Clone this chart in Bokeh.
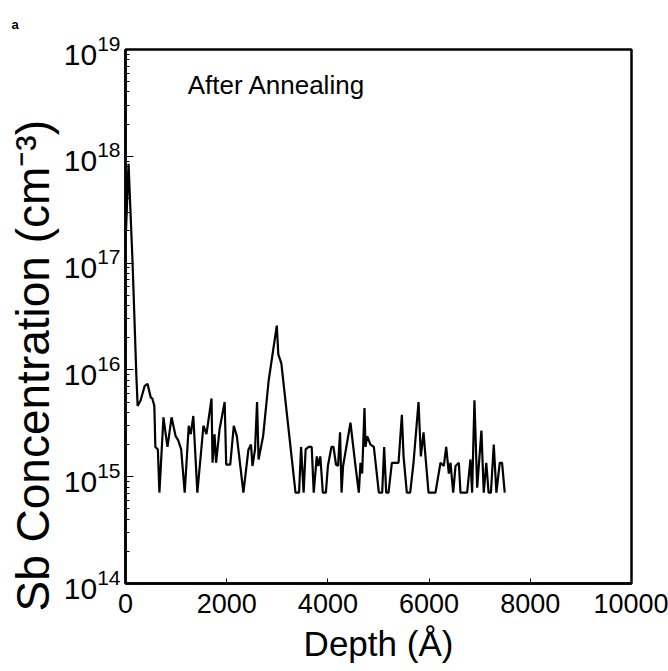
from bokeh.plotting import figure
from bokeh.models import Range1d, Label, FixedTicker, Title
from bokeh.embed import file_html
from bokeh.resources import INLINE

# Depth (Angstrom) and Sb concentration (cm^-3), read from the profile
depth = [10, 60, 140, 215, 240, 300, 380, 435, 500, 530, 570, 590, 640, 670,
         750, 800, 830, 910, 960, 990, 1040, 1100, 1170, 1250, 1290, 1340,
         1420, 1540, 1600, 1700, 1720, 1760, 1790, 1860, 1960, 1990, 2070,
         2140, 2200, 2330, 2430, 2480, 2510, 2560, 2600, 2630, 2720, 2830,
         2990, 3020, 3080, 3360, 3430, 3470, 3520, 3560, 3620, 3680, 3720,
         3780, 3810, 3850, 3900, 3960, 4000, 4070, 4110, 4160, 4200, 4240,
         4270, 4300, 4446, 4545, 4611, 4644, 4677, 4723, 4743, 4776, 4842,
         4908, 5007, 5073, 5112, 5152, 5198, 5264, 5396, 5462, 5495, 5560,
         5626, 5692, 5791, 5837, 5890, 5923, 5989, 6126, 6225, 6291, 6338,
         6390, 6423, 6476, 6522, 6588, 6620, 6752, 6817, 6850, 6896, 6950,
         7034, 7080, 7130, 7176, 7222, 7278, 7330, 7396, 7442, 7495]
conc = [2.0e17, 8.5e17, 1.0e17, 8.7e15, 4.6e15, 5.2e15, 7.1e15, 7.4e15, 5.5e15,
        5.4e15, 4.6e15, 1.9e15, 1.8e15, 7.1e14,
        3.6e15, 2.4e15, 1.9e15, 3.6e15, 2.8e15, 2.4e15, 2.2e15, 1.8e15, 7.1e14,
        3.0e15, 2.5e15, 3.7e15,
        7.1e14, 3.0e15, 2.5e15, 5.4e15, 1.35e15, 2.5e15, 1.35e15, 2.8e15,
        5.0e15, 1.3e15, 1.3e15,
        3.0e15, 2.4e15, 7.1e14, 1.8e15, 2.0e15, 1.26e15, 1.8e15, 5.0e15,
        1.45e15, 2.4e15, 8.0e15,
        2.6e16, 1.4e16, 1.15e16, 7.1e14, 7.1e14, 1.9e15, 7.1e14, 1.8e15,
        1.9e15, 1.9e15, 7.1e14,
        1.55e15, 1.26e15, 1.55e15, 7.1e14, 7.1e14, 1.26e15, 1.9e15, 1.9e15,
        1.3e15, 1.26e15, 2.6e15,
        7.1e14, 1.26e15, 3.2e15, 1.26e15, 7.1e14, 1.35e15, 1.07e15, 4.4e15,
        1.9e15, 2.4e15, 2.0e15,
        1.9e15, 7.1e14, 7.1e14, 1.9e15, 7.1e14, 7.1e14, 1.35e15, 1.35e15,
        3.8e15, 1.55e15, 7.1e14,
        7.1e14, 1.35e15, 5.0e15, 1.55e15, 2.6e15, 1.66e15, 7.1e14, 7.1e14,
        1.35e15, 1.26e15, 1.9e15,
        1.07e15, 1.35e15, 7.1e14, 1.26e15, 1.35e15, 7.1e14, 7.1e14, 1.45e15,
        7.1e14, 5.2e15, 7.9e14,
        2.7e15, 7.1e14, 1.35e15, 7.1e14, 7.1e14, 2.0e15, 7.1e14, 1.35e15,
        1.35e15, 7.1e14]

x_ticks = [0, 2000, 4000, 6000, 8000, 10000]
x_minor = [1000, 3000, 5000, 7000, 9000]

FONT = "Liberation Sans"

p = figure(width=668, height=671, y_axis_type="log",
           x_range=Range1d(0, 10000), y_range=Range1d(1e14, 1e19),
           output_backend="svg", toolbar_location=None,
           min_border_left=125, min_border_right=37,
           min_border_top=0, min_border_bottom=88)

p.line(depth, conc, line_color="black", line_width=2.2)

p.grid.visible = False
p.background_fill_color = "white"
p.border_fill_color = "white"
p.outline_line_color = "black"
p.outline_line_width = 2.5
p.outline_line_alpha = 1.0

xa = p.xaxis[0]
xa.ticker = FixedTicker(ticks=x_ticks, minor_ticks=x_minor)
xa.axis_label = "Depth (Å)"
xa.axis_label_text_font = FONT
xa.axis_label_text_font_size = "35px"
xa.axis_label_text_font_style = "normal"
xa.axis_label_text_color = "black"
xa.axis_label_standoff = 8
xa.major_label_text_font = FONT
xa.major_label_text_font_size = "27px"
xa.major_label_text_color = "black"
xa.major_label_standoff = 10
xa.major_tick_in = 5
xa.major_tick_out = 0
xa.minor_tick_in = 0
xa.minor_tick_out = 0
xa.axis_line_width = 2.5

ya = p.yaxis[0]
ya.ticker.desired_num_ticks = 6
ya.axis_label = None
ya.major_label_text_font = FONT
ya.major_label_text_font_size = "30px"
ya.major_label_text_color = "black"
ya.major_label_standoff = 5
ya.major_tick_in = 8
ya.major_tick_out = 0
ya.minor_tick_in = 4
ya.minor_tick_out = 0
ya.axis_line_width = 2.5

# y-axis title, starting a little below the frame bottom as in the original
p.add_layout(Title(text="Sb Concentration (cm⁻³)", align="left", offset=-28,
                   vertical_align="middle", text_font=FONT,
                   text_font_size="46px", text_font_style="normal",
                   text_color="black", standoff=2), "left")

# panel label "a" in the top-left corner (also creates the top margin)
p.add_layout(Title(text="a", align="left", offset=-114, vertical_align="top",
                   text_font=FONT, text_font_size="13px",
                   text_font_style="bold", text_color="black",
                   standoff=32), "above")

p.add_layout(Label(x=1230, y=10**18.53, text="After Annealing", text_font=FONT,
                   text_font_size="26px", text_color="black"))

open("out.html", "w").write(file_html(p, INLINE))
